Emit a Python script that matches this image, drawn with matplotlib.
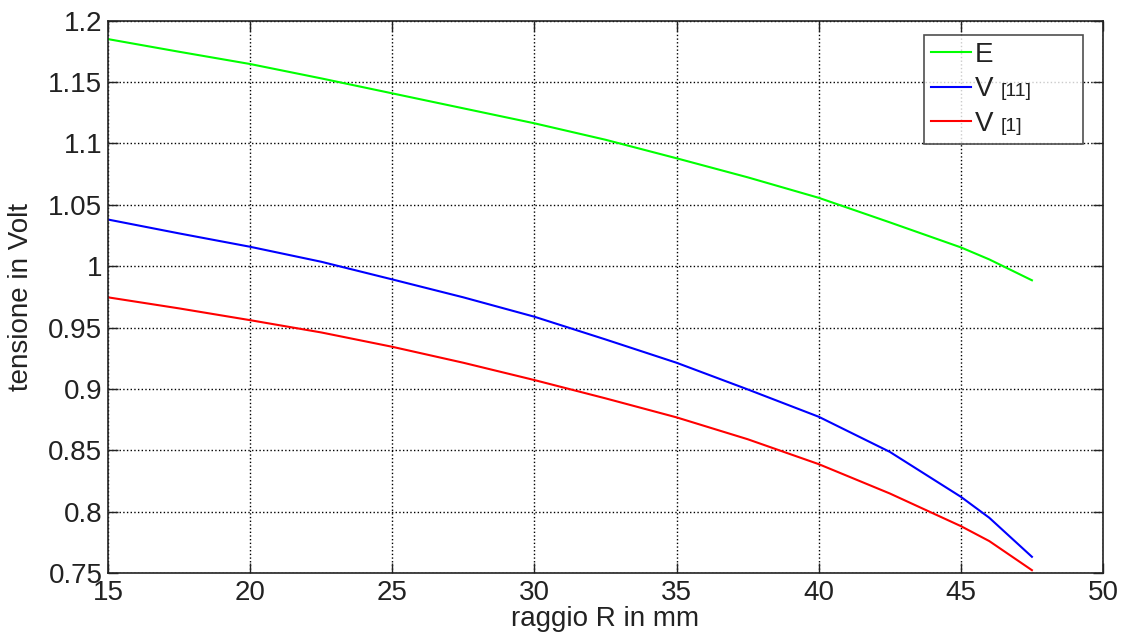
import matplotlib
matplotlib.use("Agg")
import matplotlib.pyplot as plt

# Radius (mm) and voltages
raggio = [15, 17.5, 20, 22.5, 25, 27.5, 30, 32.5, 35, 37.5, 40, 42.5, 45, 46, 47.5]
tens_E = [1.185, 1.1747, 1.1647, 1.153, 1.1408, 1.1286, 1.1164, 1.103, 1.0879,
          1.0724, 1.0557, 1.0357, 1.0153, 1.0055, 0.9885]
tens_V11 = [1.038, 1.0267, 1.0158, 1.0036, 0.9892, 0.9746, 0.9588, 0.9403, 0.9213,
            0.8996, 0.8773, 0.8487, 0.8121, 0.795, 0.7632]
tens_V1 = [0.9746, 0.9656, 0.956, 0.946, 0.9343, 0.9213, 0.9072, 0.8923, 0.8768,
           0.859, 0.8387, 0.8148, 0.7882, 0.776, 0.7523]

x_ticks = [15, 20, 25, 30, 35, 40, 45, 50]
y_ticks = [0.75, 0.8, 0.85, 0.9, 0.95, 1.0, 1.05, 1.1, 1.15, 1.2]
y_ticklabels = ["0.75", "0.8", "0.85", "0.9", "0.95", "1", "1.05", "1.1", "1.15", "1.2"]

series_labels = ["E", "V", "V"]
series_refs = [None, "[11]", "[1]"]

plt.rcParams["font.family"] = ["Liberation Sans", "DejaVu Sans"]

W, H, DPI = 1125, 641, 100
fig = plt.figure(figsize=(W / DPI, H / DPI), dpi=DPI)
ax_l, ax_r, ax_t, ax_b = 108, 1103, 20.7, 573
ax = fig.add_axes([ax_l / W, 1 - ax_b / H, (ax_r - ax_l) / W, (ax_b - ax_t) / H])

FS = 20
lw = 1.5
l1, = ax.plot(raggio, tens_E, color="#00ff00", lw=lw)
l2, = ax.plot(raggio, tens_V11, color="#0000ff", lw=lw)
l3, = ax.plot(raggio, tens_V1, color="#ff0000", lw=lw)

ax.set_xlim(15, 50)
ax.set_ylim(0.75, 1.2)
ax.set_xticks(x_ticks)
ax.set_xticklabels([str(v) for v in x_ticks])
ax.set_yticks(y_ticks)
ax.set_yticklabels(y_ticklabels)

ax.grid(True, color="black", linestyle=":", linewidth=1.0)
ax.tick_params(direction="in", length=7, width=1.0, top=True, right=True,
               labelsize=FS, colors="#222222")
ax.tick_params(axis="x", pad=5)
ax.tick_params(axis="y", pad=4)
for s in ax.spines.values():
    s.set_linewidth(1.2)
    s.set_color("#222222")

ax.set_xlabel("raggio R in mm", fontsize=FS, color="#222222", labelpad=0)
ax.set_ylabel("tensione in Volt", fontsize=FS, color="#222222", labelpad=10)

# Legend box spanning a fixed area in the upper right corner
lx0, ly0, lx1, ly1 = 924, 35, 1083, 147
inv = ax.transAxes.inverted()
(bx0, by1) = inv.transform((lx0, H - ly0))
(bx1, by0) = inv.transform((lx1, H - ly1))
leg = ax.legend([l1, l2, l3], series_labels, loc="upper left",
                bbox_to_anchor=(bx0, by0, bx1 - bx0, by1 - by0), mode="expand",
                fontsize=FS, frameon=True, fancybox=False, shadow=False,
                borderpad=0.25, borderaxespad=0, handlelength=1.45,
                handletextpad=0.12, labelspacing=0.3)
leg.get_frame().set_edgecolor("#222222")
leg.get_frame().set_linewidth(1.2)
for t in leg.get_texts():
    t.set_color("#222222")

# Reference tags in a smaller size next to each "V"
fig.canvas.draw()
fs_px = FS * DPI / 72
for t, ref in zip(leg.get_texts(), series_refs):
    if ref is None:
        continue
    bb = t.get_window_extent()
    base = bb.y0 + 0.212 * fs_px
    fig.text((bb.x1 + 8) / W, base / H, ref, fontsize=14, color="#222222",
             va="baseline", ha="left")

fig.savefig("out.png", dpi=DPI)
